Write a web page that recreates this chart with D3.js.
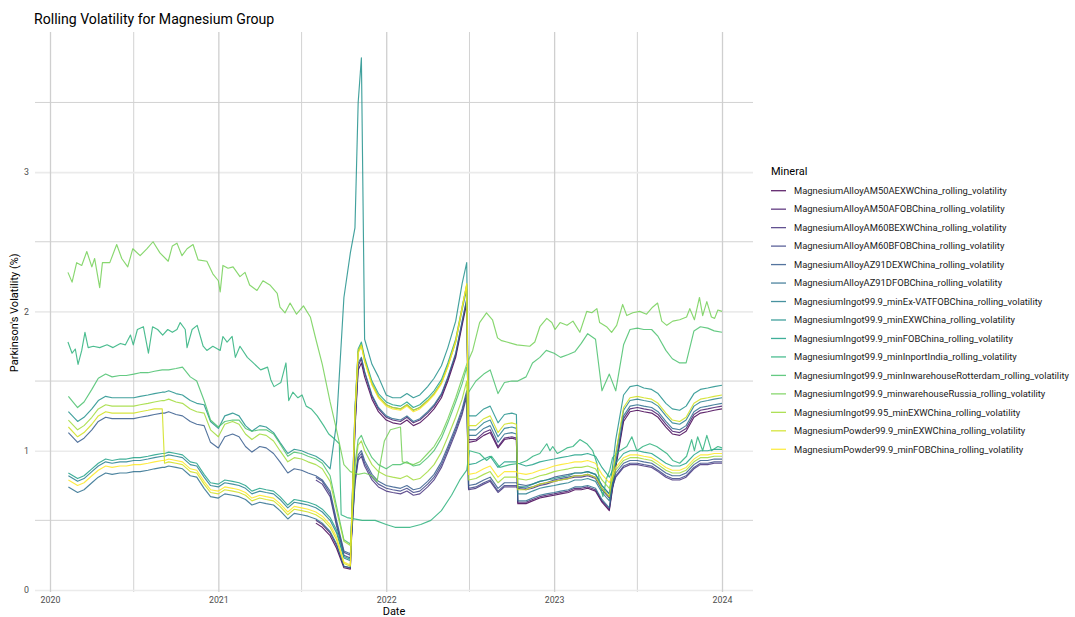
<!DOCTYPE html>
<html>
<head>
<meta charset="utf-8">
<script src="https://cdn.jsdelivr.net/npm/d3@7"></script>
<style>
  body { margin: 0; background: #ffffff; }
  text { font-family: Roboto, "Noto Sans", "DejaVu Sans", sans-serif; }
</style>
</head>
<body>
<svg id="chart" width="1075" height="617"></svg>
<script>
// ---- categories ----
const minerals = [
  "MagnesiumAlloyAM50AEXWChina_rolling_volatility",
  "MagnesiumAlloyAM50AFOBChina_rolling_volatility",
  "MagnesiumAlloyAM60BEXWChina_rolling_volatility",
  "MagnesiumAlloyAM60BFOBChina_rolling_volatility",
  "MagnesiumAlloyAZ91DEXWChina_rolling_volatility",
  "MagnesiumAlloyAZ91DFOBChina_rolling_volatility",
  "MagnesiumIngot99.9_minEx-VATFOBChina_rolling_volatility",
  "MagnesiumIngot99.9_minEXWChina_rolling_volatility",
  "MagnesiumIngot99.9_minFOBChina_rolling_volatility",
  "MagnesiumIngot99.9_minInportIndia_rolling_volatility",
  "MagnesiumIngot99.9_minInwarehouseRotterdam_rolling_volatility",
  "MagnesiumIngot99.9_minwarehouseRussia_rolling_volatility",
  "MagnesiumIngot99.95_minEXWChina_rolling_volatility",
  "MagnesiumPowder99.9_minEXWChina_rolling_volatility",
  "MagnesiumPowder99.9_minFOBChina_rolling_volatility"
];

// ---- shared observation dates ----
const dates = [
  "2020-02-10","2020-03-01","2020-03-15","2020-04-01","2020-04-15","2020-05-01","2020-05-15","2020-06-01","2020-06-15","2020-07-01",
  "2020-07-15","2020-08-01","2020-08-15","2020-09-01","2020-09-06","2020-09-15","2020-10-01","2020-10-15","2020-11-01","2020-11-15",
  "2020-12-01","2020-12-15","2021-01-01","2021-01-15","2021-02-01","2021-02-15","2021-03-01","2021-03-15","2021-04-01","2021-04-15",
  "2021-05-01","2021-05-15","2021-06-01","2021-06-15","2021-07-01","2021-07-15","2021-08-01","2021-08-15","2021-09-01","2021-09-15",
  "2021-10-01","2021-10-15","2021-10-25","2021-11-01","2021-11-08","2021-11-15","2021-12-01","2021-12-15","2022-01-01","2022-01-15",
  "2022-02-01","2022-02-15","2022-03-01","2022-03-15","2022-04-01","2022-04-15","2022-05-01","2022-05-15","2022-06-01","2022-06-15",
  "2022-06-25","2022-06-29","2022-07-15","2022-08-01","2022-08-15","2022-09-01","2022-09-15","2022-10-01","2022-10-11","2022-10-14",
  "2022-11-01","2022-11-15","2022-12-01","2022-12-15","2023-01-01","2023-01-15","2023-02-01","2023-02-15","2023-03-01","2023-03-15",
  "2023-04-01","2023-04-15","2023-05-01","2023-05-15","2023-06-01","2023-06-15","2023-07-01","2023-07-15","2023-08-01","2023-08-15",
  "2023-09-01","2023-09-15","2023-10-01","2023-10-15","2023-11-01","2023-11-15","2023-12-01","2023-12-15","2024-01-01"
];

// ---- series values on the shared dates (null = no observation) ----
const am50aExw = [
  null,null,null,null,null,null,null,null,null,null,
  null,null,null,null,null,null,null,null,null,null,
  null,null,null,null,null,null,null,null,null,null,
  null,null,null,null,null,null,0.48,0.45,0.39,0.30,
  0.16,0.15,1.15,1.58,1.63,1.53,1.37,1.28,1.22,1.20,
  1.19,1.22,1.18,1.20,1.25,1.30,1.38,1.50,1.67,1.90,
  2.06,1.06,1.07,1.11,1.13,1.02,1.08,1.09,1.08,0.62,
  0.62,0.64,0.66,0.67,0.68,0.69,0.70,0.72,0.72,0.73,
  0.71,0.63,0.57,0.88,1.21,1.28,1.29,1.28,1.27,1.24,
  1.17,1.12,1.11,1.14,1.24,1.27,1.28,1.29,1.30
];
const am50aFob = [
  null,null,null,null,null,null,null,null,null,null,
  null,null,null,null,null,null,null,null,null,null,
  null,null,null,null,null,null,null,null,null,null,
  null,null,null,null,null,null,0.50,0.47,0.41,0.32,
  0.17,0.16,1.18,1.61,1.66,1.56,1.39,1.30,1.24,1.22,
  1.21,1.24,1.20,1.22,1.27,1.32,1.40,1.52,1.69,1.92,
  2.08,1.08,1.08,1.13,1.15,1.03,1.09,1.10,1.09,0.63,
  0.63,0.65,0.67,0.68,0.69,0.70,0.71,0.73,0.73,0.74,
  0.72,0.64,0.58,0.90,1.23,1.30,1.31,1.30,1.29,1.26,
  1.19,1.14,1.13,1.16,1.26,1.29,1.30,1.31,1.32
];
const am60bExw = [
  null,null,null,null,null,null,null,null,null,null,
  null,null,null,null,null,null,null,null,null,null,
  null,null,null,null,null,null,null,null,null,null,
  null,null,null,null,null,null,0.79,0.76,0.67,0.46,
  0.25,0.23,0.76,0.93,0.96,0.89,0.79,0.74,0.71,0.70,
  0.69,0.71,0.68,0.69,0.74,0.79,0.88,0.99,1.13,1.26,
  1.39,0.72,0.73,0.76,0.78,0.70,0.74,0.74,0.74,0.73,
  0.72,0.73,0.75,0.76,0.78,0.79,0.80,0.81,0.81,0.82,
  0.80,0.72,0.66,0.81,0.88,0.90,0.90,0.89,0.88,0.85,
  0.81,0.79,0.79,0.81,0.87,0.90,0.90,0.91,0.91
];
const am60bFob = [
  null,null,null,null,null,null,null,null,null,null,
  null,null,null,null,null,null,null,null,null,null,
  null,null,null,null,null,null,null,null,null,null,
  null,null,null,null,null,null,0.81,0.78,0.69,0.48,
  0.27,0.25,0.78,0.95,0.98,0.91,0.81,0.76,0.73,0.72,
  0.71,0.73,0.70,0.71,0.76,0.81,0.90,1.01,1.15,1.28,
  1.41,0.73,0.74,0.77,0.79,0.71,0.75,0.75,0.75,0.74,
  0.73,0.74,0.76,0.77,0.79,0.80,0.81,0.82,0.82,0.83,
  0.81,0.73,0.67,0.82,0.89,0.91,0.91,0.90,0.89,0.86,
  0.82,0.80,0.80,0.82,0.88,0.91,0.91,0.92,0.92
];
const az91dExw = [
  1.13,1.06,1.09,1.15,1.21,1.24,1.23,1.23,1.23,1.23,
  1.24,1.25,1.26,1.27,1.27,1.28,1.26,1.25,1.21,1.19,
  1.18,1.06,1.02,1.10,1.12,1.10,1.03,0.99,1.03,1.02,
  0.98,0.92,0.84,0.87,0.86,0.84,0.82,0.79,0.71,0.50,
  0.28,0.26,0.80,0.97,1.00,0.93,0.83,0.78,0.75,0.74,
  0.73,0.75,0.72,0.73,0.78,0.83,0.92,1.03,1.17,1.30,
  1.43,0.75,0.76,0.79,0.81,0.73,0.77,0.77,0.77,0.76,
  0.75,0.76,0.78,0.79,0.81,0.82,0.83,0.84,0.84,0.85,
  0.83,0.75,0.69,0.84,0.91,0.93,0.93,0.92,0.91,0.88,
  0.84,0.82,0.82,0.84,0.90,0.93,0.93,0.94,0.94
];
const az91dFob = [
  0.74,0.70,0.72,0.77,0.81,0.84,0.83,0.84,0.84,0.85,
  0.85,0.86,0.87,0.88,0.88,0.89,0.88,0.87,0.82,0.81,
  0.73,0.67,0.66,0.69,0.68,0.67,0.65,0.61,0.63,0.62,
  0.61,0.57,0.51,0.55,0.54,0.53,0.51,0.48,0.42,0.33,
  0.17,0.16,1.19,1.63,1.67,1.57,1.40,1.31,1.25,1.23,
  1.22,1.25,1.21,1.23,1.28,1.33,1.41,1.53,1.70,1.93,
  2.09,1.11,1.11,1.16,1.18,1.06,1.12,1.13,1.12,0.64,
  0.64,0.66,0.68,0.69,0.70,0.71,0.72,0.74,0.74,0.75,
  0.73,0.65,0.59,0.91,1.25,1.32,1.33,1.32,1.31,1.28,
  1.21,1.16,1.15,1.18,1.28,1.31,1.32,1.33,1.34
];
const ingotExVatFob = [
  0.82,0.78,0.80,0.85,0.89,0.92,0.91,0.92,0.92,0.93,
  0.93,0.94,0.95,0.96,0.96,0.97,0.96,0.95,0.90,0.89,
  0.81,0.75,0.74,0.77,0.76,0.75,0.73,0.69,0.71,0.70,
  0.69,0.65,0.59,0.63,0.62,0.61,0.59,0.56,0.50,0.41,
  0.23,0.21,1.28,1.71,1.76,1.65,1.48,1.39,1.33,1.31,
  1.30,1.33,1.29,1.31,1.36,1.41,1.49,1.61,1.78,2.01,
  2.16,1.15,1.15,1.20,1.22,1.10,1.16,1.17,1.16,0.69,
  0.69,0.71,0.73,0.74,0.75,0.76,0.77,0.79,0.79,0.80,
  0.78,0.70,0.64,0.97,1.29,1.36,1.37,1.36,1.35,1.32,
  1.25,1.20,1.19,1.22,1.32,1.35,1.36,1.37,1.38
];
const ingotExw = [
  1.28,1.21,1.24,1.30,1.36,1.39,1.38,1.38,1.38,1.38,
  1.39,1.40,1.41,1.42,1.42,1.43,1.41,1.40,1.36,1.34,
  1.33,1.21,1.16,1.25,1.27,1.25,1.18,1.14,1.18,1.17,
  1.13,1.06,0.98,1.01,1.00,0.98,0.96,0.93,0.87,1.20,
  2.10,2.42,2.60,3.50,3.82,1.80,1.62,1.53,1.40,1.38,
  1.38,1.41,1.38,1.40,1.46,1.52,1.61,1.74,1.93,2.20,
  2.35,1.25,1.25,1.30,1.32,1.20,1.26,1.27,1.26,0.74,
  0.74,0.76,0.78,0.79,0.80,0.81,0.82,0.84,0.84,0.85,
  0.83,0.75,0.69,1.08,1.40,1.46,1.47,1.45,1.44,1.41,
  1.34,1.30,1.29,1.32,1.41,1.44,1.45,1.46,1.47
];
const ingotFob = [
  0.84,0.80,0.82,0.87,0.91,0.94,0.93,0.94,0.94,0.95,
  0.95,0.96,0.97,0.98,0.98,0.99,0.98,0.97,0.92,0.91,
  0.83,0.77,0.76,0.79,0.78,0.77,0.75,0.71,0.73,0.72,
  0.71,0.67,0.61,0.65,0.64,0.63,0.61,0.58,0.52,0.43,
  0.24,0.22,1.30,1.73,1.78,1.67,1.50,1.41,1.35,1.33,
  1.32,1.35,1.31,1.33,1.38,1.43,1.51,1.63,1.80,2.03,
  2.19,0.90,0.91,0.94,0.96,0.88,0.92,0.92,0.92,0.91,
  0.89,0.90,0.92,0.93,0.94,0.95,0.96,0.97,0.97,0.98,
  0.96,0.88,0.81,0.91,0.98,1.00,1.00,0.99,0.98,0.95,
  0.91,0.89,0.89,0.91,0.97,1.00,1.00,1.01,1.01
];
const ingotRotterdam = [
  1.39,1.31,1.35,1.44,1.52,1.55,1.53,1.54,1.54,1.55,
  1.56,1.56,1.57,1.58,1.58,1.58,1.59,1.60,1.53,1.50,
  1.36,1.22,1.17,1.21,1.22,1.22,1.16,1.14,1.15,1.15,
  1.12,1.05,0.96,0.99,0.98,0.96,0.94,0.91,0.82,0.60,
  0.36,0.33,0.90,1.08,1.11,1.05,0.95,0.90,0.87,0.90,
  0.90,0.92,0.89,0.90,0.95,1.00,1.09,1.20,1.35,1.48,
  1.60,1.42,1.50,1.55,1.58,1.41,1.49,1.50,1.50,1.50,
  1.53,1.63,1.67,1.72,1.70,1.67,1.69,1.71,1.77,1.84,
  1.80,1.43,1.55,1.43,1.76,1.87,1.88,1.87,1.87,1.82,
  1.72,1.66,1.63,1.63,1.86,1.89,1.88,1.86,1.85
];
const ingot9995Exw = [
  1.22,1.15,1.18,1.24,1.30,1.33,1.32,1.32,1.32,1.32,
  1.33,1.34,1.35,1.36,1.36,1.37,1.35,1.34,1.30,1.28,
  1.27,1.15,1.10,1.19,1.21,1.19,1.12,1.08,1.12,1.11,
  1.07,1.00,0.92,0.95,0.94,0.92,0.90,0.87,0.78,0.57,
  0.35,0.32,0.87,1.04,1.07,1.00,0.90,0.85,0.82,0.81,
  0.80,0.82,0.79,0.80,0.85,0.90,0.99,1.10,1.24,1.37,
  1.50,0.79,0.80,0.83,0.85,0.77,0.81,0.81,0.81,0.80,
  0.79,0.80,0.82,0.83,0.85,0.86,0.87,0.88,0.88,0.89,
  0.87,0.79,0.73,0.86,0.93,0.95,0.95,0.94,0.93,0.90,
  0.86,0.84,0.84,0.86,0.92,0.95,0.95,0.96,0.96
];
const powderExw = [
  1.17,1.10,1.13,1.19,1.25,1.28,1.27,1.27,1.27,1.27,
  1.28,1.29,1.30,1.30,0.91,0.92,0.91,0.90,0.85,0.84,
  0.76,0.70,0.69,0.72,0.71,0.70,0.68,0.64,0.66,0.65,
  0.64,0.60,0.54,0.58,0.57,0.56,0.54,0.51,0.45,0.36,
  0.19,0.17,1.27,1.72,1.76,1.65,1.48,1.39,1.33,1.31,
  1.30,1.33,1.29,1.31,1.36,1.41,1.49,1.61,1.79,2.03,
  2.19,1.18,1.18,1.23,1.25,1.13,1.19,1.20,1.19,0.72,
  0.72,0.74,0.76,0.77,0.78,0.79,0.80,0.82,0.82,0.83,
  0.81,0.73,0.67,0.98,1.31,1.38,1.39,1.38,1.37,1.34,
  1.27,1.22,1.21,1.24,1.34,1.37,1.38,1.39,1.40
];
const powderFob = [
  0.79,0.75,0.77,0.82,0.86,0.89,0.88,0.89,0.89,0.90,
  0.90,0.91,0.92,0.93,0.93,0.94,0.93,0.92,0.87,0.86,
  0.78,0.72,0.71,0.74,0.73,0.72,0.70,0.66,0.68,0.67,
  0.66,0.62,0.56,0.60,0.59,0.58,0.56,0.53,0.47,0.38,
  0.20,0.18,1.25,1.70,1.75,1.64,1.47,1.38,1.32,1.30,
  1.29,1.32,1.28,1.30,1.35,1.40,1.48,1.60,1.78,2.02,
  2.20,0.83,0.84,0.87,0.89,0.81,0.85,0.85,0.85,0.84,
  0.83,0.84,0.86,0.87,0.89,0.90,0.91,0.92,0.92,0.93,
  0.91,0.83,0.77,0.88,0.95,0.97,0.97,0.96,0.95,0.92,
  0.88,0.86,0.86,0.88,0.94,0.97,0.97,0.98,0.98
];

// ---- two more irregular series with their own dates ----
const inportIndiaDates = [
  "2020-02-09","2020-02-18","2020-02-25","2020-03-02","2020-03-10","2020-03-17","2020-03-24","2020-04-04","2020-04-18","2020-05-04",
  "2020-05-17","2020-06-02","2020-06-13","2020-06-24","2020-06-30","2020-07-09","2020-07-22","2020-08-02","2020-08-11","2020-08-22",
  "2020-09-02","2020-09-13","2020-09-23","2020-10-03","2020-10-10","2020-10-21","2020-10-25","2020-11-05","2020-11-16","2020-11-29",
  "2020-12-07","2020-12-20","2021-01-05","2021-01-11","2021-01-20","2021-01-31","2021-02-07","2021-02-17","2021-03-05","2021-03-18",
  "2021-04-03","2021-04-18","2021-04-25","2021-05-02","2021-05-17","2021-05-28","2021-06-03","2021-06-12","2021-06-23","2021-07-02",
  "2021-07-11","2021-07-22","2021-08-04","2021-08-18","2021-08-29","2021-09-12","2021-09-21","2021-09-25","2021-10-08","2021-11-10",
  "2021-12-08","2022-01-01","2022-01-20","2022-02-22","2022-03-17","2022-04-08","2022-05-01","2022-05-23","2022-06-10","2022-06-25",
  "2022-07-01","2022-07-23","2022-08-07","2022-08-18","2022-09-05","2022-09-27","2022-10-19","2022-11-03","2022-11-16","2022-12-01",
  "2022-12-16","2022-12-23","2022-12-29","2023-01-08","2023-01-19","2023-01-29","2023-02-11","2023-02-26","2023-03-13","2023-03-26",
  "2023-04-04","2023-04-10","2023-04-17","2023-04-25","2023-05-02","2023-05-08","2023-05-24","2023-06-08","2023-06-19","2023-06-30",
  "2023-07-13","2023-07-28","2023-08-12","2023-09-03","2023-09-16","2023-10-01","2023-10-16","2023-10-27","2023-11-02","2023-11-09",
  "2023-11-20","2023-11-29","2023-12-09","2023-12-23","2024-01-01"
];
const inportIndiaValues = [
  1.78,1.70,1.73,1.62,1.72,1.85,1.74,1.75,1.74,1.76,
  1.74,1.77,1.76,1.83,1.76,1.87,1.89,1.70,1.89,1.87,
  1.83,1.87,1.85,1.87,1.92,1.87,1.74,1.87,1.90,1.75,
  1.72,1.75,1.72,1.82,1.78,1.82,1.67,1.75,1.67,1.63,
  1.58,1.60,1.51,1.46,1.49,1.63,1.36,1.42,1.38,1.40,
  1.32,1.30,1.25,1.18,1.12,1.08,1.05,0.54,0.52,0.50,
  0.50,0.47,0.45,0.45,0.47,0.50,0.57,0.68,0.79,0.86,
  1.00,0.98,0.93,0.96,0.88,0.90,0.91,0.93,0.96,0.98,
  1.05,1.00,1.03,0.98,1.00,1.02,1.03,1.08,1.05,1.00,
  0.91,0.77,0.67,0.80,0.86,0.95,1.00,1.03,1.10,1.00,
  1.03,1.05,1.03,0.98,0.93,0.91,0.96,1.08,1.00,1.10,
  1.00,1.11,1.00,1.03,1.02
];

const russiaDates = [
  "2020-02-09","2020-02-18","2020-02-28","2020-03-10","2020-03-21","2020-04-01","2020-04-07","2020-04-18","2020-04-24","2020-05-10",
  "2020-05-25","2020-06-05","2020-06-18","2020-06-29","2020-07-15","2020-07-30","2020-08-12","2020-08-27","2020-09-14","2020-09-23",
  "2020-10-03","2020-10-14","2020-10-25","2020-11-07","2020-11-18","2020-12-07","2020-12-20","2021-01-01","2021-01-05","2021-01-11",
  "2021-01-22","2021-02-02","2021-02-17","2021-02-28","2021-03-10","2021-03-26","2021-04-08","2021-04-23","2021-05-09","2021-05-15",
  "2021-05-26","2021-06-06","2021-06-20","2021-07-05","2021-07-20","2021-08-01","2021-08-15","2021-09-01","2021-09-15","2021-10-01",
  "2021-10-15","2021-11-01","2021-11-15","2021-12-01","2021-12-12","2021-12-28","2022-01-10","2022-02-01","2022-02-05","2022-03-01",
  "2022-03-15","2022-04-01","2022-04-15","2022-05-01","2022-05-15","2022-06-01","2022-06-15","2022-06-25","2022-07-08","2022-07-23",
  "2022-08-07","2022-08-20","2022-08-31","2022-09-09","2022-09-20","2022-10-12","2022-11-09","2022-11-20","2022-12-01","2022-12-16",
  "2022-12-27","2023-01-03","2023-01-14","2023-01-29","2023-02-11","2023-02-26","2023-03-13","2023-03-24","2023-04-04","2023-04-10",
  "2023-04-25","2023-05-06","2023-05-17","2023-05-30","2023-06-08","2023-06-21","2023-07-06","2023-07-21","2023-08-03","2023-08-14",
  "2023-08-23","2023-09-03","2023-09-16","2023-10-01","2023-10-16","2023-10-23","2023-11-02","2023-11-13","2023-11-20","2023-11-29",
  "2023-12-09","2023-12-16","2023-12-23","2024-01-01"
];
const russiaValues = [
  2.28,2.21,2.35,2.33,2.43,2.32,2.38,2.17,2.35,2.35,
  2.48,2.38,2.32,2.45,2.40,2.45,2.50,2.42,2.36,2.47,
  2.49,2.40,2.45,2.48,2.37,2.36,2.27,2.22,2.14,2.33,
  2.31,2.32,2.25,2.28,2.19,2.15,2.22,2.19,2.13,2.03,
  1.99,2.06,1.98,2.04,1.96,1.80,1.62,1.35,1.15,0.90,
  0.85,0.83,0.84,0.82,0.78,1.07,1.15,1.17,0.92,0.90,
  0.92,0.98,1.03,1.12,1.23,1.38,1.52,1.62,1.72,1.92,
  1.99,1.94,1.81,1.79,1.78,1.76,1.75,1.78,1.89,1.95,
  1.92,1.87,1.92,1.90,1.93,1.85,2.00,1.99,2.02,1.92,
  1.89,1.85,1.90,2.05,1.97,1.99,2.00,1.98,2.03,2.06,
  1.93,1.90,1.93,1.94,1.96,2.02,1.94,2.10,1.97,2.07,
  1.96,1.95,2.01,2.00
];

// ---- axis ticks ----
const yTickValues = [0, 1, 2, 3];
const yMinorValues = [0.5, 1.5, 2.5, 3.5];
const xTickLabels = ["2020", "2021", "2022", "2023", "2024"];
const xMinorDates = ["2020-07-01", "2021-07-01", "2022-07-01", "2023-07-01"];

// ---- assemble ----
const parse = d3.timeParse("%Y-%m-%d");
const sharedValues = [am50aExw, am50aFob, am60bExw, am60bFob, az91dExw, az91dFob,
  ingotExVatFob, ingotExw, ingotFob, null, ingotRotterdam, null, ingot9995Exw, powderExw, powderFob];

const series = minerals.map((name, i) => {
  let pts;
  if (i === 9) pts = inportIndiaDates.map((d, k) => ({ date: parse(d), v: inportIndiaValues[k] }));
  else if (i === 11) pts = russiaDates.map((d, k) => ({ date: parse(d), v: russiaValues[k] }));
  else pts = dates.map((d, k) => ({ date: parse(d), v: sharedValues[i][k] }));
  return { name, i, pts };
});

const color = d3.scaleOrdinal().domain(minerals)
  .range(minerals.map((_, i) => d3.interpolateViridis(i / (minerals.length - 1))));

const panel = { left: 35, right: 753, top: 32, bottom: 592 };
const x = d3.scaleTime().domain([parse("2020-01-01"), parse("2024-01-01")]).range([50, 722]);
const y = d3.scaleLinear().domain([0, 4]).range([590, 32.8]);

const svg = d3.select("#chart");

// grid: minor lines first, then major
const grid = svg.append("g");
grid.selectAll(".ymin").data(yMinorValues).join("line")
  .attr("x1", panel.left).attr("x2", panel.right)
  .attr("y1", d => y(d)).attr("y2", d => y(d))
  .attr("stroke", "#d2d2d2").attr("stroke-width", 1);
grid.selectAll(".xmin").data(xMinorDates).join("line")
  .attr("y1", panel.top).attr("y2", panel.bottom)
  .attr("x1", d => x(parse(d))).attr("x2", d => x(parse(d)))
  .attr("stroke", "#d2d2d2").attr("stroke-width", 1);

const yAxis = d3.axisLeft(y).tickValues(yTickValues).tickFormat(d3.format("d"))
  .tickSize(-(panel.right - panel.left)).tickPadding(6);
const yg = svg.append("g").attr("transform", `translate(${panel.left},0)`).call(yAxis);
yg.select(".domain").remove();
yg.selectAll(".tick line").attr("stroke", "#ebebeb").attr("stroke-width", 1.6);
yg.selectAll(".tick text").attr("fill", "#4d4d4d").attr("font-size", 8.8)
  .attr("font-family", "Roboto, 'Noto Sans', sans-serif");

const xAxis = d3.axisBottom(x).tickValues(xTickLabels.map(t => parse(t + "-01-01")))
  .tickFormat(d3.timeFormat("%Y")).tickSize(-(panel.bottom - panel.top)).tickPadding(5);
const xg = svg.append("g").attr("transform", `translate(0,${panel.bottom})`).call(xAxis);
xg.select(".domain").remove();
xg.selectAll(".tick line").attr("stroke", "#cfcfcf").attr("stroke-width", 1.3);
xg.selectAll(".tick text").attr("fill", "#4d4d4d").attr("font-size", 8.8)
  .attr("font-family", "Roboto, 'Noto Sans', sans-serif");

// lines
const line = d3.line().defined(d => d.v !== null).x(d => x(d.date)).y(d => y(d.v));
svg.append("g").selectAll("path").data(series).join("path")
  .attr("d", d => line(d.pts))
  .attr("fill", "none")
  .attr("stroke", d => color(d.name))
  .attr("stroke-opacity", 0.85)
  .attr("stroke-width", 1.15)
  .attr("stroke-linejoin", "round");

// titles
svg.append("text").attr("x", 34).attr("y", 24).attr("font-size", 14.1).attr("fill", "#000")
  .text("Rolling Volatility for Magnesium Group");
svg.append("text").attr("x", (panel.left + panel.right) / 2).attr("y", 615)
  .attr("text-anchor", "middle").attr("font-size", 11).attr("fill", "#000").text("Date");
svg.append("text").attr("transform", `translate(18,${y(1.99)}) rotate(-90)`)
  .attr("text-anchor", "middle").attr("font-size", 11).attr("fill", "#000")
  .text("Parkinson's Volatility (%)");

// legend
const legend = svg.append("g");
legend.append("text").attr("x", 771).attr("y", 175).attr("font-size", 11).attr("fill", "#000").text("Mineral");
const item = legend.selectAll(".item").data(minerals).join("g")
  .attr("transform", (d, i) => `translate(0,${190.7 + i * 18.47})`);
item.append("line").attr("x1", 771).attr("x2", 786).attr("y1", 0).attr("y2", 0)
  .attr("stroke", d => color(d)).attr("stroke-opacity", 0.85).attr("stroke-width", 1.3);
item.append("text").attr("x", 794).attr("y", 3.3).attr("font-size", 9.4).attr("fill", "#1a1a1a").text(d => d);
</script>
</body>
</html>
